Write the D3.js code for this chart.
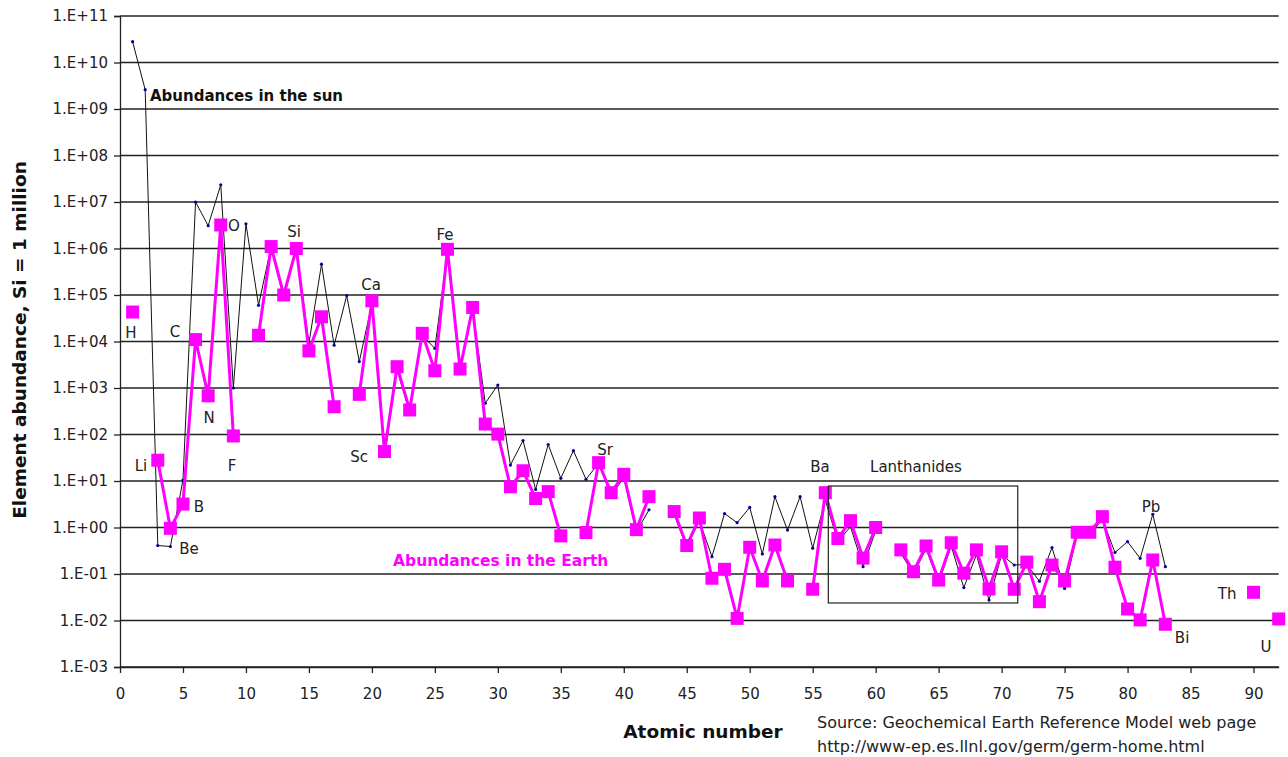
<!DOCTYPE html>
<html>
<head>
<meta charset="utf-8">
<script src="https://cdn.jsdelivr.net/npm/d3@7"></script>
<style>
  body { margin: 0; background: #fff; }
  svg { display: block; }
  text { font-family: "DejaVu Sans", sans-serif; }
</style>
</head>
<body>
<div id="wrapper"></div>
<script>
// abundance relative to Si = 1e6, index 0 = H (Z=1)
const sunValues = [
  2.8e10, 2.6e9, 0.41, 0.39, 10.5, 1.0e7, 3.1e6, 2.35e7, 1000, 3.4e6,
  6.0e4, 1.1e6, 8.5e4, 1.0e6, 9.1e3, 4.6e5, 8.3e3, 9.7e4, 3.7e3, 6.5e4,
  35, 2500, 300, 1.35e4, 7.1e3, 8.5e5, 2300, 5.0e4, 470, 1160,
  22, 74, 6.6, 61, 11.4, 45, 10.9, 24, 4.8, 12,
  0.8, 2.4, null, 1.9, 0.37, 1.4, 0.236, 2.0, 1.27, 2.7,
  0.27, 4.6, 0.88, 4.6, 0.36, 3.9, 0.5, 1.04, 0.144, 0.85,
  null, 0.28, 0.1, 0.35, 0.065, 0.4, 0.051, 0.26, 0.0275, 0.26,
  0.156, 0.16, 0.07, 0.37, 0.049, 0.7, 0.7, 1.5, 0.29, 0.495,
  0.217, 1.92, 0.144
]
const earthValues = [
  4.3e4, null, 28, 0.96, 3.2, 1.1e4, 680, 3.2e6, 93, null,
  1.36e4, 1.1e6, 1.0e5, 1.0e6, 6.3e3, 3.4e4, 395, null, 730, 7.5e4,
  43, 2870, 337, 1.5e4, 2350, 9.6e5, 2560, 5.4e4, 168, 102,
  7.5, 16.6, 4.2, 5.9, 0.66, null, 0.78, 24.8, 5.6, 13.9,
  0.9, 4.6, null, 2.2, 0.41, 1.6, 0.081, 0.126, 0.0111, 0.375,
  0.071, 0.42, 0.071, null, 0.047, 5.6, 0.58, 1.4, 0.22, 1.0,
  null, 0.33, 0.112, 0.4, 0.074, 0.47, 0.104, 0.33, 0.0476, 0.30,
  0.047, 0.18, 0.0254, 0.156, 0.071, 0.79, 0.79, 1.71, 0.14, 0.0177,
  0.0103, 0.2, 0.0083, null, null, null, null, null, null, 0.0404,
  null, 0.0108
]
const xTicks = [0, 5, 10, 15, 20, 25, 30, 35, 40, 45, 50, 55, 60, 65, 70, 75, 80, 85, 90]
const yExponents = [-3, -2, -1, 0, 1, 2, 3, 4, 5, 6, 7, 8, 9, 10, 11]
// element labels: [text, atomic number, abundance] placed in data space
const elementLabels = [
  ["H", 0.87, 1.5e4], ["Li", 1.67, 21], ["Be", 5.48, 0.35], ["B", 6.27, 2.75],
  ["C", 4.37, 1.6e4], ["N", 7.07, 226], ["O", 9.05, 3.0e6], ["F", 8.89, 21],
  ["Si", 13.82, 2.26e6], ["Ca", 19.93, 1.64e5], ["Sc", 18.98, 33], ["Fe", 25.8, 2.0e6],
  ["Sr", 38.51, 46], ["Ba", 55.58, 20], ["Lanthanides", 63.2, 20], ["Pb", 81.86, 2.75],
  ["Th", 87.9, 0.037], ["Bi", 84.33, 0.0042], ["U", 91.0, 0.0027]
]
const lanthBox = {z0: 56.24, z1: 71.28, v0: 0.0238, v1: 7.8}

const W = 1288, H = 757
const svg = d3.select("#wrapper").append("svg")
  .attr("width", W).attr("height", H)

const x = d3.scaleLinear().domain([0, 92]).range([120, 1278.7])
const y = d3.scaleLog().domain([1e-3, 1e11]).range([667, 16])

const sun = sunValues.map((v, i) => ({z: i + 1, v: v}))
const earth = earthValues.map((v, i) => ({z: i + 1, v: v}))

function fmtExp(e) {
  const a = Math.abs(e)
  return "1.E" + (e < 0 ? "-" : "+") + (a < 10 ? "0" + a : a)
}

// horizontal gridlines
svg.append("g").selectAll("line")
  .data(yExponents)
  .enter().append("line")
    .attr("x1", x(0)).attr("x2", x(92))
    .attr("y1", d => y(Math.pow(10, d))).attr("y2", d => y(Math.pow(10, d)))
    .attr("stroke", "#222").attr("stroke-width", 1.3)

// y axis
const yAxis = d3.axisLeft(y)
  .tickValues(yExponents.map(e => Math.pow(10, e)))
  .tickFormat(d => fmtExp(Math.round(Math.log10(d))))
  .tickSize(6).tickPadding(6)
const gy = svg.append("g").attr("transform", `translate(${x(0)},0)`).call(yAxis)
gy.selectAll("text").attr("font-size", 15).attr("fill", "#222").style("font-family", "DejaVu Sans")
gy.selectAll("line, path").attr("stroke", "#222").attr("stroke-width", 1.3)

// x axis
const xAxis = d3.axisBottom(x).tickValues(xTicks).tickSize(6).tickPadding(15).tickSizeOuter(0)
const gx = svg.append("g").attr("transform", `translate(0,${y(1e-3)})`).call(xAxis)
gx.selectAll("text").attr("font-size", 15).attr("fill", "#222").style("font-family", "DejaVu Sans")
gx.selectAll("line, path").attr("stroke", "#222").attr("stroke-width", 1.3)

// sun line
const line = d3.line().defined(d => d.v != null).x(d => x(d.z)).y(d => y(d.v))
svg.append("path").datum(sun)
  .attr("d", line).attr("fill", "none").attr("stroke", "#111").attr("stroke-width", 1)
svg.append("g").selectAll("circle")
  .data(sun.filter(d => d.v != null))
  .enter().append("circle")
    .attr("cx", d => x(d.z)).attr("cy", d => y(d.v)).attr("r", 1.6)
    .attr("fill", "#0000a0")

// earth line
svg.append("path").datum(earth)
  .attr("d", line).attr("fill", "none").attr("stroke", "#ff00ff").attr("stroke-width", 3)
svg.append("g").selectAll("rect")
  .data(earth.filter(d => d.v != null))
  .enter().append("rect")
    .attr("x", d => x(d.z) - 6.5).attr("y", d => y(d.v) - 6.5)
    .attr("width", 13).attr("height", 13)
    .attr("fill", "#ff00ff")

// lanthanides box
svg.append("rect")
  .attr("x", x(lanthBox.z0)).attr("y", y(lanthBox.v1))
  .attr("width", x(lanthBox.z1) - x(lanthBox.z0))
  .attr("height", y(lanthBox.v0) - y(lanthBox.v1))
  .attr("fill", "none").attr("stroke", "#222").attr("stroke-width", 1.2)

// element labels
svg.append("g").selectAll("text")
  .data(elementLabels)
  .enter().append("text")
    .attr("x", d => x(d[1])).attr("y", d => y(d[2]))
    .attr("text-anchor", "middle").attr("dominant-baseline", "central")
    .attr("font-size", 15).attr("fill", "#222")
    .text(d => d[0])

// series labels
svg.append("text")
  .attr("x", x(2.38)).attr("y", y(Math.pow(10, 9.28)))
  .attr("dominant-baseline", "central")
  .attr("font-size", 15).attr("font-weight", "bold").attr("fill", "#111")
  .text("Abundances in the sun")
svg.append("text")
  .attr("x", x(21.68)).attr("y", y(Math.pow(10, -0.72)))
  .attr("dominant-baseline", "central")
  .attr("font-size", 15.5).attr("font-weight", "bold").attr("fill", "#ff00ff")
  .text("Abundances in the Earth")

// axis titles
svg.append("text")
  .attr("transform", "translate(19,340) rotate(-90)")
  .attr("text-anchor", "middle").attr("dominant-baseline", "central")
  .attr("font-size", 18.5).attr("font-weight", "bold").attr("fill", "#111")
  .text("Element abundance, Si = 1 million")
svg.append("text")
  .attr("x", 703).attr("y", 731)
  .attr("text-anchor", "middle").attr("dominant-baseline", "central")
  .attr("font-size", 18.5).attr("font-weight", "bold").attr("fill", "#111")
  .text("Atomic number")
svg.append("text")
  .attr("x", 817).attr("y", 722).attr("dominant-baseline", "central")
  .attr("font-size", 16).attr("fill", "#222")
  .text("Source: Geochemical Earth Reference Model web page")
svg.append("text")
  .attr("x", 817).attr("y", 746).attr("dominant-baseline", "central")
  .attr("font-size", 16).attr("fill", "#222")
  .text("http://www-ep.es.llnl.gov/germ/germ-home.html")
</script>
</body>
</html>
